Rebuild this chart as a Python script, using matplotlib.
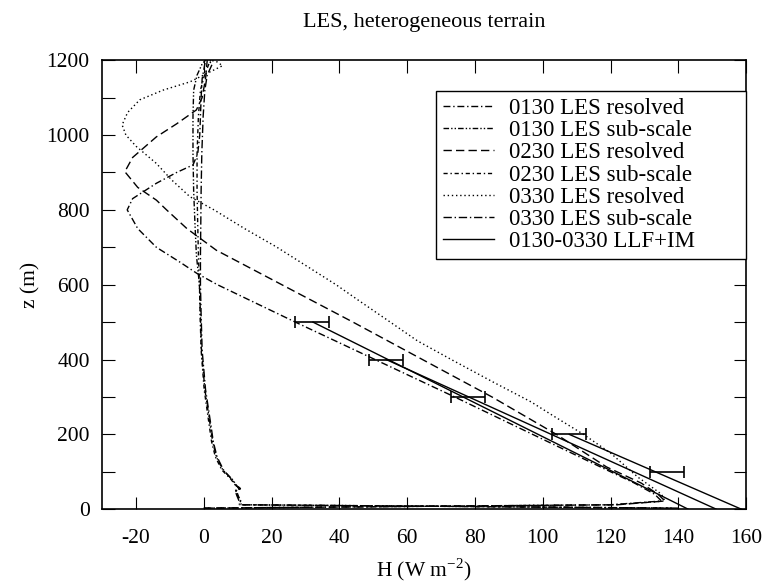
import matplotlib
matplotlib.use("Agg")
import matplotlib.pyplot as plt
from matplotlib.ticker import MultipleLocator, FuncFormatter

plt.rcParams['font.family'] = ['Liberation Serif', 'DejaVu Serif']
plt.rcParams['axes.unicode_minus'] = False

# LES resolved heat flux profiles (z in m, H in W m-2)
res_0130_z = [3, 12, 22, 40, 70, 100, 200, 300, 400, 500, 600, 630, 660, 700, 750, 800, 830, 871, 900, 920, 950, 1000, 1100, 1150, 1200]
res_0130_h = [0, 120, 135, 133, 127, 120, 97, 74, 50.5, 27, 4, -2, -7, -14, -19.5, -22.6, -21, -14, -8, -3.2, -1.8, -1.2, -0.8, -0.5, 0.5]

res_0230_z = [3, 12, 22, 40, 70, 113, 200, 300, 400, 500, 600, 692, 750, 800, 826, 860, 902, 940, 995, 1030, 1067, 1100, 1150, 1200]
res_0230_h = [0, 122, 136, 134, 129, 118.8, 104, 85, 64.5, 44, 23, 3.7, -5, -11, -14, -19.5, -23.3, -21, -14, -8, -2.2, -0.5, 0.5, 1]

res_0330_z = [3, 12, 22, 40, 60, 86, 150, 200, 250, 287, 340, 400, 450, 500, 559, 600, 701, 750, 800, 835, 880, 924, 970, 1000, 1027, 1060, 1094, 1120, 1142, 1165, 1185, 1195, 1200]
res_0330_h = [0, 121, 136, 135, 132, 128, 120, 112, 103, 96.5, 85.3, 73, 63, 55, 45.5, 39, 21.4, 12, 3, -4.1, -9.5, -14, -20, -23, -24.1, -22.5, -18.9, -12, -4.1, 1, 5.5, 4, 2]

# LES sub-scale heat flux profiles
sub_z = [3, 12, 20, 35, 50, 55, 62, 80, 105, 140, 180, 230, 320, 425, 520, 600, 680, 760, 850, 950, 1050, 1120, 1160, 1190, 1200]
sub_0130_h = [138, 11, 11, 10.2, 9.6, 11, 9.8, 8.4, 5.6, 3.7, 2.6, 1.8, 0.3, -0.7, -1.0, -1.3, -2.2, -2.6, -3.0, -3.2, -3.2, -3.0, -2.0, -0.5, 0.5]
sub_0230_h = [137, 11.3, 10.8, 10.0, 9.4, 10.5, 9.5, 8.0, 5.3, 3.4, 2.3, 1.5, 0.1, -0.8, -1.1, -1.3, -1.6, -1.8, -2.0, -2.0, -1.6, -1.0, 0.2, 1.5, 2.0]
sub_0330_h = [140, 10.5, 10.5, 9.8, 9.2, 10.8, 9.6, 8.2, 5.8, 3.9, 2.8, 2.0, 0.5, -0.5, -0.8, -1.0, -1.0, -0.9, -0.8, -0.6, -0.2, 0.3, 1.0, 2.5, 1.0]

# LLF+IM model lines (top point, surface point)
llf_a_z = [500, 0]
llf_a_h = [32.2, 142.9]
llf_b_z = [400, 0]
llf_b_h = [53.8, 151.2]
llf_c_z = [200, 0]
llf_c_h = [107.8, 158.6]

# error bars
err_z = [100, 200, 300, 400, 500]
err_h = [136.6, 107.8, 77.9, 53.8, 31.8]
err_w = [5, 5, 5, 5, 5]

fig = plt.figure(figsize=(7.65, 5.84), dpi=100)
ax = fig.add_axes([0.1335, 0.128, 0.842, 0.769])

lw = 1.0
ax.plot(res_0130_h, res_0130_z, color='k', lw=lw, ls=(0, (5, 2, 1, 2)), label='0130 LES resolved')
ax.plot(sub_0130_h, sub_z, color='k', lw=lw, ls=(0, (4, 1.5, 1, 1.5, 1, 1.5)), label='0130 LES sub-scale')
ax.plot(res_0230_h, res_0230_z, color='k', lw=lw, ls=(0, (6, 3)), label='0230 LES resolved')
ax.plot(sub_0230_h, sub_z, color='k', lw=lw, ls=(0, (3, 2, 1, 2)), label='0230 LES sub-scale')
ax.plot(res_0330_h, res_0330_z, color='k', lw=lw, ls=(0, (1, 2)), label='0330 LES resolved')
ax.plot(sub_0330_h, sub_z, color='k', lw=lw, ls=(0, (6, 2, 1, 2)), label='0330 LES sub-scale')
ax.plot(llf_a_h, llf_a_z, color='k', lw=lw, ls='-', label='0130-0330 LLF+IM')
ax.plot(llf_b_h, llf_b_z, color='k', lw=lw, ls='-')
ax.plot(llf_c_h, llf_c_z, color='k', lw=lw, ls='-')
ax.errorbar(err_h, err_z, xerr=err_w, fmt='none', ecolor='k', elinewidth=1.2, capsize=4.5, capthick=1.2)

ax.set_xlim(-30, 160)
ax.set_ylim(0, 1200)
ax.xaxis.set_major_locator(MultipleLocator(20))
ax.yaxis.set_major_locator(MultipleLocator(100))
ax.yaxis.set_major_formatter(FuncFormatter(lambda v, p: '%d' % v if int(round(v)) % 200 == 0 else ''))
ax.tick_params(direction='in', top=True, right=True, length=9, width=0.8, labelsize=15.5)
ax.tick_params(axis='x', pad=14)
ax.tick_params(axis='y', pad=9)
for s in ax.spines.values():
    s.set_linewidth(1.2)

ax.set_title('LES, heterogeneous terrain', fontsize=16, pad=24)
ax.set_xlabel('H (W m$^{\\mathregular{-2}}$)', fontsize=15.5, labelpad=6)
ax.set_ylabel('z (m)', fontsize=15.5, labelpad=4)

leg = ax.legend(loc='upper right', bbox_to_anchor=(0.519, 0.0, 0.481, 0.931), mode='expand',
                borderaxespad=0, fontsize=16.5, handlelength=2.2, handletextpad=0.65,
                labelspacing=0.05, borderpad=0.3, fancybox=False, framealpha=1)
leg.get_frame().set_edgecolor('k')
leg.get_frame().set_linewidth(1.0)

fig.savefig('out.png', dpi=100)
